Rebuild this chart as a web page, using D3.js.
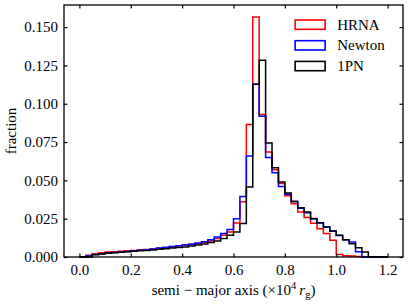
<!DOCTYPE html>
<html>
<head>
<meta charset="utf-8">
<script src="https://cdn.jsdelivr.net/npm/d3@7"></script>
<style>
  body { margin: 0; background: #fff; }
  svg text { font-family: "Liberation Serif", "DejaVu Serif", serif; fill: #000; }
</style>
</head>
<body>
<div id="chart"></div>
<script>
// histogram bins: 48 bins of 0.025 from 0 to 1.2 (x 10^4 r_g)
const binStart = 0;
const binWidth = 0.025;

const hrna = [
    0, 0.0012, 0.0022, 0.0028, 0.0032, 0.0035, 0.0038, 0.0040, 0.0043, 0.0046,
    0.0049, 0.0052, 0.0056, 0.0060, 0.0066, 0.0072, 0.0078, 0.0083, 0.0087, 0.0096,
    0.0104, 0.0120, 0.0142, 0.0163, 0.0222, 0.0360, 0.0865, 0.1566, 0.0930, 0.0685,
    0.0570, 0.0479, 0.0400, 0.0348, 0.0294, 0.0257, 0.0220, 0.0185, 0.0153, 0.0110,
    0.0016, 0.0008, 0.0006, 0.0004, 0, 0, 0, 0
];
const newton = [
    0, 0.0006, 0.0016, 0.0022, 0.0026, 0.0030, 0.0033, 0.0036, 0.0040, 0.0044,
    0.0048, 0.0053, 0.0058, 0.0063, 0.0068, 0.0073, 0.0079, 0.0084, 0.0091, 0.0100,
    0.0113, 0.0130, 0.0153, 0.0179, 0.0250, 0.0395, 0.0659, 0.1127, 0.0918, 0.0650,
    0.0550, 0.0460, 0.0410, 0.0360, 0.0318, 0.0288, 0.0248, 0.0222, 0.0196, 0.0168,
    0.0140, 0.0112, 0.0098, 0.0035, 0, 0, 0, 0
];
const pn1 = [
    0, 0, 0.0015, 0.0020, 0.0024, 0.0028, 0.0031, 0.0034, 0.0037, 0.0040,
    0.0043, 0.0046, 0.0050, 0.0054, 0.0058, 0.0062, 0.0066, 0.0072, 0.0078, 0.0085,
    0.0094, 0.0104, 0.0120, 0.0142, 0.0163, 0.0218, 0.0457, 0.1127, 0.1283, 0.0744,
    0.0583, 0.0489, 0.0418, 0.0363, 0.0322, 0.0294, 0.0252, 0.0224, 0.0196, 0.0170,
    0.0142, 0.0113, 0.0087, 0.0061, 0.0033, 0, 0, 0
];

const seriesNames = ["HRNA", "Newton", "1PN"];
const seriesColors = ["#ff0000", "#0000ff", "#000000"];
const seriesData = [hrna, newton, pn1];

const xTicks = [0.0, 0.2, 0.4, 0.6, 0.8, 1.0, 1.2];
const yTicks = [0.000, 0.025, 0.050, 0.075, 0.100, 0.125, 0.150];

const width = 408, height = 304;
const margin = { top: 5, right: 5, bottom: 47, left: 64 };
const w = width - margin.left - margin.right;
const h = height - margin.top - margin.bottom;
const serif = "'Liberation Serif', 'DejaVu Serif', serif";

const svg = d3.select("#chart")
    .append("svg")
    .attr("width", width)
    .attr("height", height);

const g = svg.append("g")
    .attr("transform", `translate(${margin.left},${margin.top})`);

const xScale = d3.scaleLinear().domain([-0.06, 1.26]).range([0, w]);
const yMax = d3.max(seriesData.flat()) * 1.05;
const yScale = d3.scaleLinear().domain([0, yMax]).range([h, 0]);

// step outline like matplotlib histtype="step"
function stepPoints(values) {
    const pts = [[binStart, 0]];
    values.forEach((v, i) => {
        pts.push([binStart + i * binWidth, v]);
        pts.push([binStart + (i + 1) * binWidth, v]);
    });
    pts.push([binStart + values.length * binWidth, 0]);
    return pts;
}

const line = d3.line()
    .x(d => xScale(d[0]))
    .y(d => yScale(d[1]));

seriesData.forEach((vals, i) => {
    g.append("path")
        .attr("d", line(stepPoints(vals)))
        .attr("fill", "none")
        .attr("stroke", seriesColors[i])
        .attr("stroke-width", 1.5)
        .attr("stroke-linejoin", "miter");
});

// axes, ticks inside on all four sides
const tickFmtY = d3.format(".3f");
const tickFmtX = d3.format(".1f");

const xAxis = g.append("g")
    .attr("transform", `translate(0,${h})`)
    .call(d3.axisBottom(xScale).tickValues(xTicks).tickSizeInner(-3.5).tickSizeOuter(0).tickPadding(7).tickFormat(tickFmtX));
const xAxisTop = g.append("g")
    .call(d3.axisTop(xScale).tickValues(xTicks).tickSizeInner(-3.5).tickSizeOuter(0).tickFormat(""));
const yAxis = g.append("g")
    .call(d3.axisLeft(yScale).tickValues(yTicks).tickSizeInner(-3.5).tickSizeOuter(0).tickPadding(6).tickFormat(tickFmtY));
const yAxisRight = g.append("g")
    .attr("transform", `translate(${w},0)`)
    .call(d3.axisRight(yScale).tickValues(yTicks).tickSizeInner(-3.5).tickSizeOuter(0).tickFormat(""));

[xAxis, xAxisTop, yAxis, yAxisRight].forEach(a => {
    a.attr("font-family", serif);
    a.select(".domain").remove();
    a.selectAll(".tick line").attr("stroke", "#000").attr("stroke-width", 1.2);
    a.selectAll(".tick text").style("font-size", "15px").style("font-family", serif);
});

g.append("rect")
    .attr("width", w)
    .attr("height", h)
    .attr("fill", "none")
    .attr("stroke", "#000")
    .attr("stroke-width", 1.3);

// legend
const legend = g.append("g").attr("transform", `translate(${xScale(0.84)},15)`);
seriesNames.forEach((name, i) => {
    const row = legend.append("g").attr("transform", `translate(0,${i * 20.7})`);
    row.append("rect")
        .attr("x", 0).attr("y", 0)
        .attr("width", 30).attr("height", 9.3)
        .attr("fill", "none")
        .attr("stroke", seriesColors[i])
        .attr("stroke-width", 1.6);
    row.append("text")
        .attr("x", 42).attr("y", 9.5)
        .style("font-size", "15px")
        .style("font-family", serif)
        .text(name);
});

// axis labels
svg.append("text")
    .attr("transform", `translate(16,${margin.top + h / 2}) rotate(-90)`)
    .attr("text-anchor", "middle")
    .style("font-size", "15px")
    .style("font-family", serif)
    .text("fraction");

const xl = svg.append("text")
    .attr("x", margin.left + w / 2)
    .attr("y", 295)
    .attr("text-anchor", "middle")
    .style("font-size", "15px")
    .style("font-family", serif);
xl.append("tspan").text("semi \u2212 major axis (\u00d710");
xl.append("tspan").attr("dy", -6).style("font-size", "10.5px").text("4");
xl.append("tspan").attr("dy", 6).attr("dx", 3).style("font-style", "italic").text("r");
xl.append("tspan").attr("dy", 3).style("font-size", "10.5px").text("g");
xl.append("tspan").attr("dy", -3).text(")");
</script>
</body>
</html>
